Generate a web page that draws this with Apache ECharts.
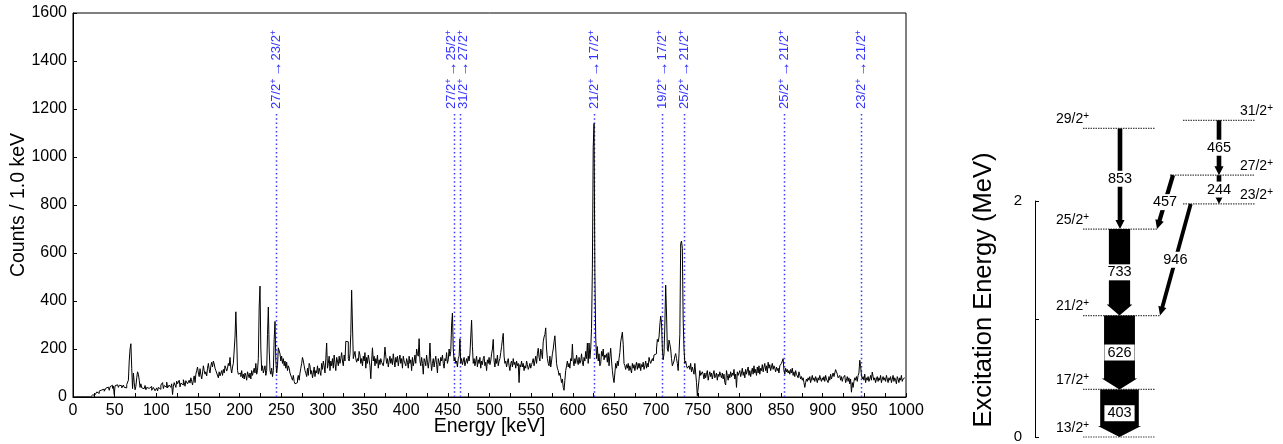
<!DOCTYPE html>
<html>
<head>
<meta charset="utf-8">
<script src="https://cdn.jsdelivr.net/npm/echarts@6/dist/echarts.min.js"></script>
<style>
  html, body { margin: 0; padding: 0; background: #fff; }
  #chart { width: 1283px; height: 444px; }
</style>
</head>
<body>
<div id="chart"></div>
<script>
// gamma spectrum, 1 keV per bin, starting at 0 keV
const binWidth = 1;
const counts = [
  // 0
  0,0,0,0,0,0,0,0,0,0,0,0,0,0,0,0,0,0,0,0,
  0,0,3,8,5,12,9,17,13,21,19,15,25,22,29,21,27,33,24,31,
  37,30,41,34,28,43,39,49,36,45,10,47,41,51,44,40,49,43,47,38,
  44,50,40,46,38,52,45,70,150,200,222,120,35,100,60,30,45,80,105,95,
  70,40,55,38,45,35,42,48,30,40,45,36,38,30,44,28,35,40,32,26,
  // 100
  30,38,25,40,45,32,50,42,60,35,48,55,40,62,38,30,50,45,40,55,
  10,45,60,52,40,66,55,48,70,42,58,65,50,72,60,45,68,75,55,62,
  70,58,80,65,50,72,88,60,95,110,125,100,85,118,92,75,100,130,110,95,
  105,88,120,140,115,100,130,145,125,150,138,120,110,100,92,80,105,88,95,110,
  90,115,100,130,120,108,120,140,130,165,120,100,125,140,140,250,355,245,110,95,
  // 200
  90,100,85,110,80,95,75,100,88,70,105,92,80,100,75,110,90,85,120,100,
  140,95,110,160,375,462,200,110,130,100,95,130,90,110,260,375,200,110,95,120,
  85,110,240,315,150,100,130,205,210,180,150,170,140,160,130,150,120,145,110,130,
  120,100,95,80,70,90,65,55,48,60,75,90,70,100,120,140,165,150,130,110,
  100,85,120,90,140,130,95,110,80,100,125,85,110,100,130,95,120,105,90,140,
  // 300
  115,150,130,100,160,225,120,140,170,110,150,130,160,120,175,140,110,165,150,130,
  170,140,160,185,150,130,175,150,232,235,230,160,150,180,265,445,300,160,155,190,
  160,145,160,150,190,175,140,160,130,170,150,185,120,165,140,175,155,130,76,150,
  205,150,170,130,160,140,175,120,155,135,160,145,140,130,160,208,170,140,160,125,
  150,170,140,160,135,180,150,125,165,145,170,130,155,175,140,160,120,170,150,140,
  // 400
  130,160,145,120,170,140,155,110,165,130,150,175,140,200,180,170,243,150,130,165,
  140,95,160,150,130,175,145,120,150,225,150,110,140,160,125,150,170,135,100,160,
  145,130,165,150,175,140,120,160,150,185,140,155,200,170,190,300,350,200,150,165,
  140,150,125,160,170,243,140,160,135,150,165,130,145,160,140,170,150,180,250,320,
  210,140,160,130,150,170,125,155,140,165,120,150,135,160,170,130,145,110,155,140,
  // 500
  165,135,150,180,200,240,150,125,160,140,175,130,150,160,185,210,240,265,170,140,
  150,125,145,160,130,110,140,150,125,160,135,145,120,150,130,140,60,135,125,150,
  125,140,110,130,120,150,135,115,125,140,120,135,145,160,130,150,170,140,180,203,
  165,150,200,185,160,230,250,260,288,200,160,140,130,170,125,150,180,200,230,255,
  200,140,120,110,90,100,80,60,75,40,28,70,110,130,150,125,140,120,160,150,
  // 600
  220,150,130,160,140,175,150,135,165,140,150,180,145,130,165,150,190,160,225,140,
  225,160,200,285,536,1040,1140,520,250,160,210,150,180,130,140,190,170,200,155,175,
  165,180,145,185,130,170,203,150,110,80,60,100,140,120,150,130,160,185,230,250,
  270,220,140,130,115,135,120,140,110,130,125,100,140,120,135,110,130,145,115,140,
  120,140,110,135,125,145,115,130,150,120,140,125,165,150,140,140,160,150,175,182,
  // 700
  180,200,240,230,250,300,337,310,200,155,180,300,466,350,200,190,237,220,200,160,
  130,125,150,170,181,160,140,110,180,260,640,650,620,320,200,140,150,130,120,125,
  130,115,140,105,125,110,95,140,100,60,5,0,70,110,90,85,105,95,75,100,
  80,95,110,70,90,105,85,100,75,95,110,80,90,100,70,95,85,105,90,80,
  100,75,95,60,50,110,90,70,95,80,105,85,100,90,115,75,95,40,105,90,
  // 800
  95,110,85,100,120,90,105,80,115,95,100,125,90,110,85,105,120,95,130,100,
  115,90,125,100,130,95,120,110,135,105,125,140,110,130,100,145,120,135,110,125,
  140,115,130,120,105,125,110,120,100,130,125,140,145,160,110,95,120,105,115,100,
  110,95,115,100,120,90,105,85,110,95,100,80,105,90,75,85,70,80,60,40,
  60,75,65,80,70,85,60,75,90,70,80,65,85,75,60,80,70,90,75,65,
  // 900
  80,70,85,65,90,75,80,60,85,70,95,75,80,100,85,90,114,105,95,80,
  75,90,70,85,65,80,75,90,60,70,85,65,80,55,75,20,60,40,65,80,
  70,85,65,90,100,153,130,90,75,85,70,95,60,80,70,85,65,75,90,70,
  104,85,70,80,60,75,85,65,80,70,90,60,75,85,70,80,65,90,75,60,
  80,70,85,60,75,90,65,80,70,55,85,75,60,80,70,90,65,75,80,70
];

// marked transitions in the spectrum
const peakEnergies = [244, 457, 465, 626, 707, 733, 853, 946];
const peakFrom = ['27/2', '27/2', '31/2', '21/2', '19/2', '25/2', '25/2', '23/2'];
const peakTo   = ['23/2', '25/2', '27/2', '17/2', '17/2', '21/2', '21/2', '21/2'];

// level scheme
const levelSpins    = ['13/2', '17/2', '21/2', '25/2', '29/2', '23/2', '27/2', '31/2'];
const levelEnergies = [0, 403, 1029, 1762, 2615, 1975, 2219, 2684]; // keV
const levelColumns  = [0, 0, 0, 0, 0, 1, 1, 1];

const gammaEnergies    = [403, 626, 733, 853, 946, 244, 465, 457];
const gammaFrom        = [1, 2, 3, 4, 5, 6, 7, 6];
const gammaTo          = [0, 1, 2, 3, 2, 5, 6, 3];
const gammaIntensities = [100, 80, 55, 12, 10, 12, 12, 11];

const FONT = '"Liberation Sans", Arial, Helvetica, sans-serif';
const BLUE = '#3434ff';

// layout of the level scheme, pixels to the right of its energy axis
const colRange = [[48, 120], [148, 220]];
const colLabel = [{ x: 21, align: 'left' }, { x: 238, align: 'right' }];
const arrowPath = {
  403: [84.5, 84.5], 626: [84.5, 84.5], 733: [84.5, 84.5], 853: [85, 85],
  465: [184, 184], 244: [184, 184], 457: [138, 122], 946: [155.7, 125]
};
const widthPerUnit = 0.386;

const spectrum = counts.map((c, i) => [i * binWidth, c]);

function renderMarker(params, api) {
  const i = params.dataIndex;
  const e = peakEnergies[i];
  const base = api.coord([e, 0]);
  const top = api.coord([e, 1600]);
  const x = Math.round(base[0]) + 0.5;
  const px = k => api.coord([peakEnergies[k], 0])[0];
  let shift = 0;
  if (i + 1 < peakEnergies.length && px(i + 1) - base[0] < 12) shift -= 3;
  if (i > 0 && base[0] - px(i - 1) < 12) shift += 3;
  return {
    type: 'group',
    children: [
      {
        type: 'line',
        shape: { x1: x, y1: base[1], x2: x, y2: top[1] + 100 },
        style: { stroke: '#3a3aff', lineWidth: 1.5, lineDash: [1.5, 2.7] }
      },
      {
        type: 'text', x: x + shift, y: top[1] + 96, rotation: Math.PI / 2,
        style: {
          text: '{n|' + peakFrom[i] + '}{s|+}{a|→}{n|' + peakTo[i] + '}{s|+}',
          align: 'left', verticalAlign: 'middle', fill: BLUE,
          rich: {
            n: { fontSize: 13, fontFamily: FONT, fill: BLUE, lineHeight: 15 },
            s: { fontSize: 9, fontFamily: FONT, fill: BLUE, lineHeight: 9, verticalAlign: 'top' },
            a: { fontSize: 15, fontFamily: FONT, fill: BLUE, lineHeight: 15, padding: [0, 1, 0, 2] }
          }
        }
      }
    ]
  };
}

function renderLevel(params, api) {
  const i = params.dataIndex;
  const col = levelColumns[i];
  let x0 = colRange[col][0], x1 = colRange[col][1];
  gammaFrom.forEach((f, g) => { if (f === i) x0 = Math.min(x0, arrowPath[gammaEnergies[g]][0] - 3); });
  gammaTo.forEach((t, g) => { if (t === i) x1 = Math.max(x1, arrowPath[gammaEnergies[g]][1]); });
  const e = levelEnergies[i] / 1000;
  const p0 = api.coord([x0, e]);
  const p1 = api.coord([x1, e]);
  const pl = api.coord([colLabel[col].x, e]);
  return {
    type: 'group',
    children: [
      {
        type: 'line',
        shape: { x1: p0[0], y1: p0[1], x2: p1[0], y2: p1[1] },
        style: { stroke: '#444', lineWidth: 1.2, lineDash: [1.5, 1] }
      },
      {
        type: 'text', x: pl[0], y: pl[1] - 1,
        style: {
          text: '{n|' + levelSpins[i] + '}{s|+}',
          align: colLabel[col].align, verticalAlign: 'bottom', fill: '#000',
          rich: {
            n: { fontSize: 14, fontFamily: FONT, fill: '#000', lineHeight: 16 },
            s: { fontSize: 10, fontFamily: FONT, fill: '#000', lineHeight: 10, verticalAlign: 'top' }
          }
        }
      }
    ]
  };
}

function renderGamma(params, api) {
  const g = params.dataIndex;
  const path = arrowPath[gammaEnergies[g]];
  const p1 = api.coord([path[0], levelEnergies[gammaFrom[g]] / 1000]);
  const p2 = api.coord([path[1], levelEnergies[gammaTo[g]] / 1000]);
  const w = gammaIntensities[g] * widthPerUnit;
  const thick = w > 15;
  const dx = p2[0] - p1[0], dy = p2[1] - p1[1];
  const len = Math.hypot(dx, dy);
  const ux = dx / len, uy = dy / len, nx = -uy, ny = ux;
  const hl = thick ? 11 : Math.min(9, len * 0.3);
  const hw = w + 4.5;
  const bx = p2[0] - ux * hl, by = p2[1] - uy * hl;
  const pts = [
    [p1[0] + nx * w / 2, p1[1] + ny * w / 2],
    [bx + nx * w / 2, by + ny * w / 2],
    [bx + nx * hw / 2, by + ny * hw / 2],
    [p2[0], p2[1]],
    [bx - nx * hw / 2, by - ny * hw / 2],
    [bx - nx * w / 2, by - ny * w / 2],
    [p1[0] - nx * w / 2, p1[1] - ny * w / 2]
  ];
  const toGround = gammaTo[g] === 0;
  return {
    type: 'group',
    children: [
      { type: 'polygon', shape: { points: pts }, style: { fill: '#000' } },
      {
        type: 'text', x: (p1[0] + p2[0]) / 2, y: (p1[1] + p2[1]) / 2,
        style: {
          text: String(gammaEnergies[g]),
          fontSize: 14.5, fontFamily: FONT, fill: '#000',
          align: 'center', verticalAlign: 'middle',
          backgroundColor: '#fff',
          padding: thick ? [1, 3, 0, 3] : [1, 1, 0, 1],
          borderColor: toGround ? '#000' : null,
          borderWidth: toGround ? 1 : 0
        }
      }
    ]
  };
}

const chart = echarts.init(document.getElementById('chart'), null, { renderer: 'canvas' });
chart.setOption({
  animation: false,
  backgroundColor: '#fff',
  textStyle: { fontFamily: FONT },
  grid: [
    { left: 73, right: 377, top: 13, bottom: 47, show: true, borderColor: '#000', borderWidth: 1,
      containLabel: false, outerBoundsMode: 'none' },
    { left: 1035, right: 0, top: 201, bottom: 7, containLabel: false, outerBoundsMode: 'none' }
  ],
  xAxis: [
    {
      type: 'value', gridIndex: 0, min: 0, max: 1000, interval: 50,
      name: 'Energy [keV]', nameLocation: 'middle', nameGap: 20, nameMoveOverlap: false,
      nameTextStyle: { fontSize: 19.5, color: '#000', fontFamily: FONT },
      axisLine: { lineStyle: { color: '#000', width: 1 } },
      axisTick: { inside: true, length: 4, lineStyle: { color: '#000' } },
      minorTick: { show: true, splitNumber: 2, length: 4, lineStyle: { color: '#000' } },
      axisLabel: { fontSize: 16, color: '#000', margin: 6, fontFamily: FONT, showMinLabel: true, showMaxLabel: true,
        formatter: v => String(v) },
      splitLine: { show: false }
    },
    { type: 'value', gridIndex: 1, min: 0, max: 248, show: false }
  ],
  yAxis: [
    {
      type: 'value', gridIndex: 0, min: 0, max: 1600, interval: 200,
      name: 'Counts / 1.0 keV', nameLocation: 'middle', nameGap: 44, nameMoveOverlap: false,
      nameTextStyle: { fontSize: 19.5, color: '#000', fontFamily: FONT },
      axisLine: { show: true, lineStyle: { color: '#000', width: 1 } },
      axisTick: { show: true, inside: true, length: 4, lineStyle: { color: '#000' } },
      axisLabel: { fontSize: 16, color: '#000', margin: 6, fontFamily: FONT, formatter: v => String(v) },
      splitLine: { show: false }
    },
    {
      type: 'value', gridIndex: 1, min: 0, max: 2, interval: 1,
      axisLine: { show: true, lineStyle: { color: '#000', width: 1 } },
      axisTick: { show: true, inside: true, length: 4, lineStyle: { color: '#000' } },
      axisLabel: { fontSize: 15, color: '#000', margin: 13, fontFamily: FONT, formatter: v => (v === 1 ? '' : String(v)) },
      splitLine: { show: false }
    }
  ],
  graphic: [
    {
      type: 'text', x: 984, y: 290, rotation: Math.PI / 2,
      style: {
        text: 'Excitation Energy (MeV)', fontSize: 25.5, fontFamily: FONT, fill: '#000',
        align: 'center', verticalAlign: 'middle'
      }
    }
  ],
  series: [
    {
      type: 'custom', xAxisIndex: 0, yAxisIndex: 0,
      data: peakEnergies.map(e => [e, 0]),
      renderItem: renderMarker, clip: false, silent: true
    },
    {
      type: 'line', xAxisIndex: 0, yAxisIndex: 0,
      data: spectrum, step: 'middle', showSymbol: false, symbol: 'none',
      lineStyle: { color: '#000', width: 1 }, silent: true
    },
    {
      type: 'custom', xAxisIndex: 1, yAxisIndex: 1,
      data: levelEnergies.map(e => [0, e / 1000]),
      renderItem: renderLevel, clip: false, silent: true
    },
    {
      type: 'custom', xAxisIndex: 1, yAxisIndex: 1,
      data: gammaEnergies.map(e => [0, 0]),
      renderItem: renderGamma, clip: false, silent: true
    }
  ]
});
</script>
</body>
</html>
